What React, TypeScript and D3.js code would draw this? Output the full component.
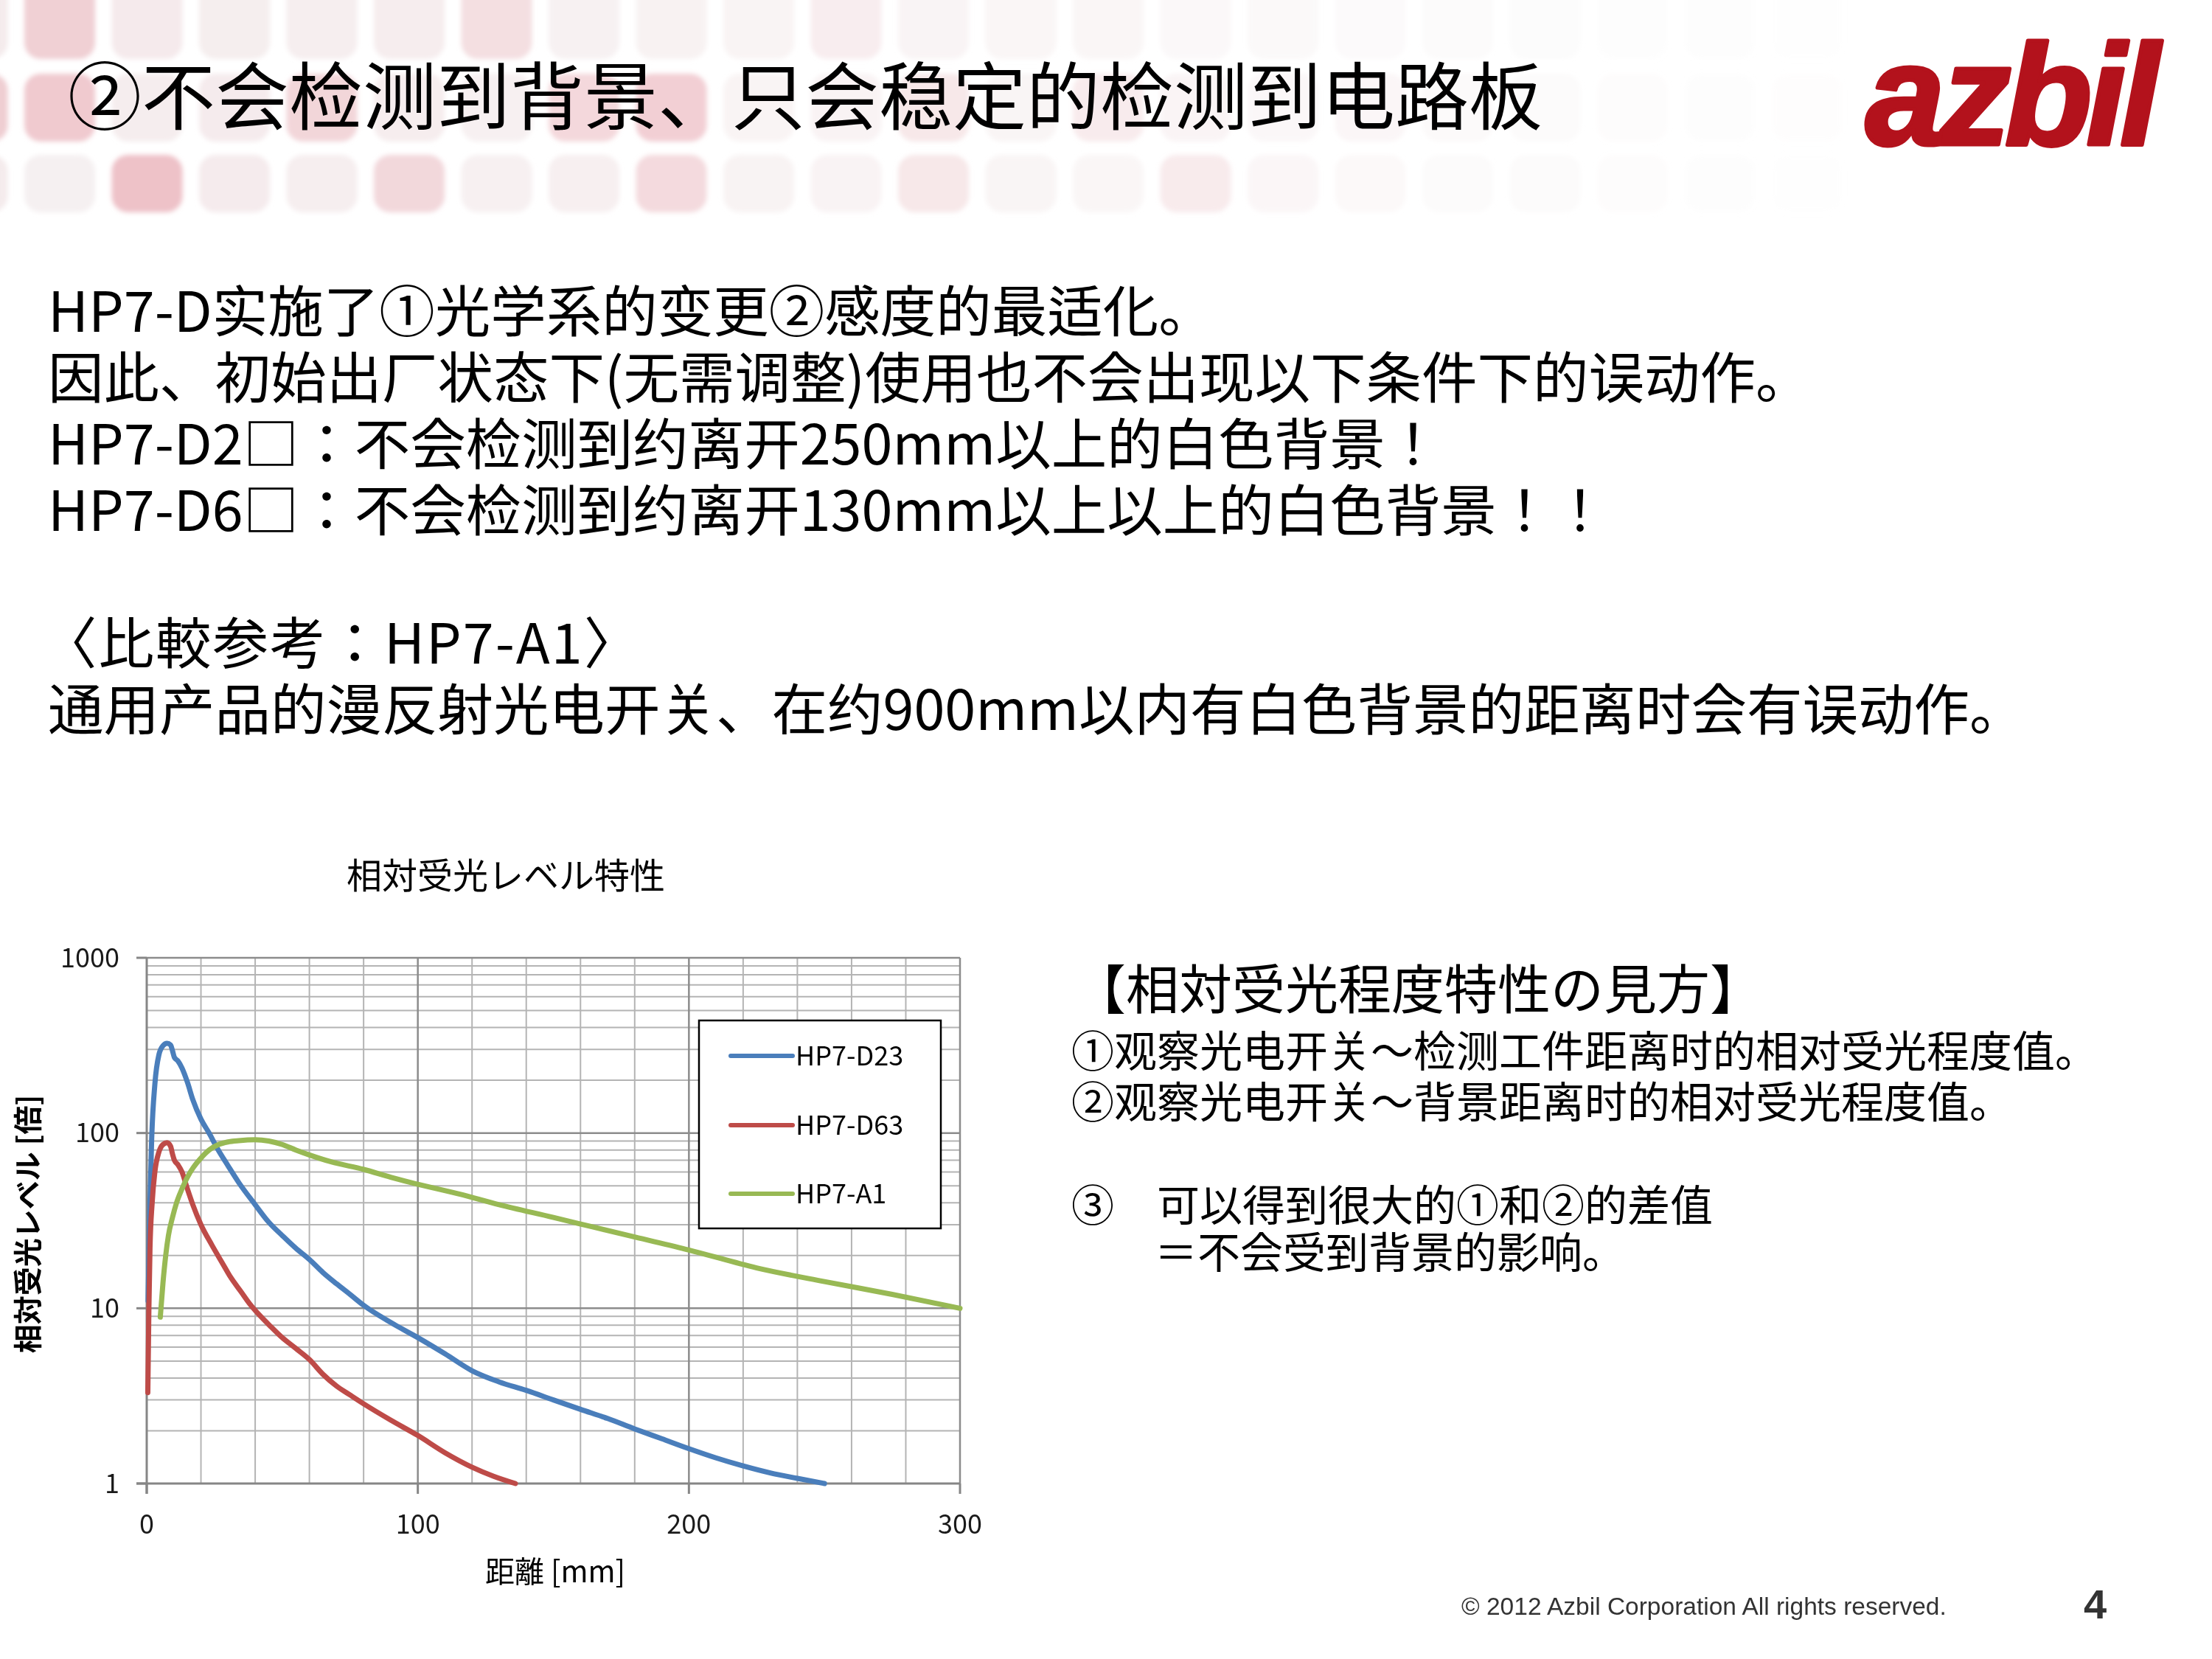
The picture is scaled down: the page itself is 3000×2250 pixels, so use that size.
import React from 'react';
import * as d3 from 'd3';

// ---------- data ----------
const seriesNames = ['HP7-D23', 'HP7-D63', 'HP7-A1'];
const seriesColors = ['#4a7ebb', '#be4b48', '#98b954'];

const distanceD23 = [0.5, 1.2, 1.8, 3, 4.5, 6, 7.5, 8.8, 9.5, 10.2, 11.5, 13, 15, 17, 20, 23, 26, 30, 34, 40, 45, 50, 55, 60, 65, 70, 75, 80, 90, 100, 110, 120, 130, 140, 150, 160, 170, 180, 190, 200, 210, 220, 230, 240, 250];
const levelD23 = [11, 40, 90, 190, 280, 315, 325, 318, 295, 270, 258, 235, 195, 155, 120, 100, 82, 65, 52, 39, 31, 26, 22, 19, 16, 13.8, 12, 10.4, 8.3, 6.8, 5.5, 4.4, 3.8, 3.4, 3.0, 2.65, 2.35, 2.05, 1.8, 1.58, 1.4, 1.26, 1.15, 1.07, 1.0];

const distanceD63 = [0.4, 0.8, 1.2, 2, 3, 4.5, 6, 7.5, 8.8, 9.5, 10.2, 11.5, 13, 15, 17, 20, 24, 28, 31, 35, 38, 42, 46, 50, 55, 60, 65, 70, 75, 80, 90, 100, 110, 120, 128, 136];
const levelD63 = [3.3, 10, 22, 40, 60, 78, 86, 88, 84, 76, 70, 66, 60, 48, 39, 30, 23, 18, 15, 12.3, 10.6, 9, 7.8, 6.8, 5.9, 5.1, 4.2, 3.6, 3.2, 2.85, 2.3, 1.88, 1.5, 1.24, 1.1, 1.0];

const distanceA1 = [5, 6, 7, 8, 9.5, 11, 13, 15, 17, 20, 23, 26.5, 30, 34, 40, 45, 50, 55, 60, 68, 80, 90, 100, 115, 130, 150, 165, 180, 200, 225, 250, 275, 300];
const levelA1 = [8.9, 14, 20, 26, 33, 40, 48, 56, 63, 72, 80, 86, 89, 90.5, 91.5, 90, 86, 80, 75, 68.5, 62, 56, 51, 45, 39, 33, 29, 25.5, 21.5, 17, 14.2, 12, 10];

const xTicks = [0, 100, 200, 300];
const yTicks = [1, 10, 100, 1000];

const chartTitle = '相対受光レベル特性';
const xAxisTitle = '距離 [mm]';
const yAxisTitle = '相対受光レベル [倍]';

const slideTitle = '②不会检测到背景、只会稳定的检测到电路板';
const bodyLines = [
  'HP7-D实施了①光学系的变更②感度的最适化。',
  '因此、初始出厂状态下(无需调整)使用也不会出现以下条件下的误动作。',
  'HP7-D2□：不会检测到约离开250mm以上的白色背景！',
  'HP7-D6□：不会检测到约离开130mm以上以上的白色背景！！',
];
const compareLines = [
  '〈比較参考：HP7-A1〉',
  '通用产品的漫反射光电开关、在约900mm以内有白色背景的距离时会有误动作。',
];
const noteHeading = '【相対受光程度特性の見方】';
const noteLines = [
  '①观察光电开关～检测工件距离时的相对受光程度值。',
  '②观察光电开关～背景距离时的相对受光程度值。',
];
const noteLine3 = '③　可以得到很大的①和②的差值';
const noteLine4 = '＝不会受到背景的影响。';
const footerText = '© 2012 Azbil Corporation All rights reserved.';
const pageNumber = '4';
const logoText = 'azbil';

// decorative header tiles (intensity per column)
const tileRow1 = [0.1, 0.35, 0.12, 0.1, 0.1, 0.12, 0.3, 0.1, 0.1, 0.08, 0.18, 0.1, 0.08, 0.1, 0.06, 0.06, 0.04, 0.04, 0.03, 0.02, 0.02, 0.01];
const tileRow2 = [0.35, 0.4, 0.1, 0.12, 0.35, 0.12, 0.1, 0.4, 0.55, 0.08, 0.1, 0.3, 0.1, 0.3, 0.15, 0.1, 0.15, 0.08, 0.06, 0.05, 0.04, 0.03];
const tileRow3 = [0.1, 0.06, 0.5, 0.12, 0.1, 0.35, 0.1, 0.12, 0.4, 0.1, 0.1, 0.3, 0.1, 0.1, 0.35, 0.12, 0.08, 0.05, 0.05, 0.04, 0.03, 0.02];

const seriesData = [
  { name: seriesNames[0], color: seriesColors[0], xs: distanceD23, ys: levelD23 },
  { name: seriesNames[1], color: seriesColors[1], xs: distanceD63, ys: levelD63 },
  { name: seriesNames[2], color: seriesColors[2], xs: distanceA1, ys: levelA1 },
];

const CJK_SC = '"Noto Sans CJK SC", "Noto Sans CJK JP", sans-serif';
const CJK_JP = '"Noto Sans CJK JP", "Noto Sans CJK SC", sans-serif';

export default function App() {
  const W = 3000, H = 2250;
  const left = 199, right = 1302, top = 1299, bottom = 2012;
  const x = d3.scaleLinear().domain([0, 300]).range([left, right]);
  const y = d3.scaleLog().domain([1, 1000]).range([bottom, top]);

  const minorX = d3.range(20, 300, 20).filter((v) => v % 100 !== 0);
  const minorY: number[] = [];
  [1, 10, 100].forEach((dec) => {
    for (let k = 2; k <= 9; k++) minorY.push(k * dec);
  });

  const line = d3
    .line<[number, number]>()
    .x((d) => x(d[0]))
    .y((d) => y(d[1]))
    .curve(d3.curveMonotoneX);

  const tileColor = d3.interpolateRgb('#f6f6f6', '#e58e99');
  const tileRows = [
    { vals: tileRow1, y0: -30, h: 110 },
    { vals: tileRow2, y0: 100, h: 92 },
    { vals: tileRow3, y0: 210, h: 78 },
  ];

  const legendX = 948, legendY = 1384, legendW = 328, legendH = 282;
  const legendRows = [1432, 1526, 1619];

  return (
    <svg width={W} height={H} viewBox={`0 0 ${W} ${H}`} style={{ position: 'absolute', left: 0, top: 0, background: '#fff' }}>
      <defs>
        <filter id="blur" x="-10%" y="-10%" width="120%" height="120%">
          <feGaussianBlur stdDeviation="3" />
        </filter>
      </defs>
      <rect x={0} y={0} width={W} height={H} fill="#ffffff" />

      {/* header tiles */}
      <g filter="url(#blur)">
        {tileRows.map((row, ri) =>
          row.vals.map((v, i) => (
            <rect
              key={`t${ri}-${i}`}
              x={33 + (i - 1) * 118.5}
              y={row.y0}
              width={96}
              height={row.h}
              rx={22}
              fill={tileColor(Math.min(1, v * 1.1))}
              opacity={Math.max(0, 1 - i / 24)}
            />
          ))
        )}
      </g>

      {/* slide title */}
      <text x={92} y={168} fontFamily={CJK_SC} fontSize={100} fill="#000">{slideTitle}</text>

      {/* logo */}
      <text x={2530} y={196} fontFamily='"Liberation Sans", Arial, sans-serif' fontWeight={700} fontStyle="italic" fontSize={194} letterSpacing={-8} fill="#b3121c" stroke="#b3121c" strokeWidth={5} strokeLinejoin="round">{logoText}</text>

      {/* body text */}
      {bodyLines.map((t, i) => (
        <text key={`b${i}`} x={65} y={450 + i * 90} fontFamily={CJK_JP} fontSize={75.5} fill="#000">{t}</text>
      ))}
      <text x={56} y={900} fontFamily={CJK_JP} fontSize={75.5} letterSpacing={2} fill="#000">{compareLines[0]}</text>
      <text x={65} y={990} fontFamily={CJK_JP} fontSize={75.5} fill="#000">{compareLines[1]}</text>

      {/* chart title */}
      <text x={686} y={1205} textAnchor="middle" fontFamily={CJK_JP} fontSize={48} fill="#000">{chartTitle}</text>

      {/* grid minor */}
      <g stroke="#b4b4b4" strokeWidth={2}>
        {minorX.map((v) => (
          <line key={`mx${v}`} x1={x(v)} x2={x(v)} y1={top} y2={bottom} />
        ))}
        {minorY.map((v) => (
          <line key={`my${v}`} x1={left} x2={right} y1={y(v)} y2={y(v)} />
        ))}
      </g>
      {/* grid major */}
      <g stroke="#8c8c8c" strokeWidth={2.5}>
        {xTicks.slice(1).map((v) => (
          <line key={`Mx${v}`} x1={x(v)} x2={x(v)} y1={top} y2={bottom} />
        ))}
        {yTicks.slice(1).map((v) => (
          <line key={`My${v}`} x1={left} x2={right} y1={y(v)} y2={y(v)} />
        ))}
      </g>
      {/* axes */}
      <g stroke="#868686" strokeWidth={3}>
        <line x1={left} x2={left} y1={top} y2={bottom + 14} />
        <line x1={left - 14} x2={right} y1={bottom} y2={bottom} />
        {yTicks.map((v) => (
          <line key={`yt${v}`} x1={left - 14} x2={left} y1={y(v)} y2={y(v)} />
        ))}
        {xTicks.map((v) => (
          <line key={`xt${v}`} x1={x(v)} x2={x(v)} y1={bottom} y2={bottom + 14} />
        ))}
      </g>

      {/* tick labels */}
      {yTicks.map((v) => (
        <text key={`yl${v}`} x={162} y={y(v)} dy="0.35em" textAnchor="end" fontFamily={CJK_JP} fontSize={36} fill="#1a1a1a">{v}</text>
      ))}
      {xTicks.map((v) => (
        <text key={`xl${v}`} x={x(v)} y={2080} textAnchor="middle" fontFamily={CJK_JP} fontSize={36} fill="#1a1a1a">{v}</text>
      ))}

      {/* axis titles */}
      <text x={753} y={2146} textAnchor="middle" fontFamily={CJK_JP} fontSize={40} fill="#000">{xAxisTitle}</text>
      <text transform={`translate(52,1660) rotate(-90)`} textAnchor="middle" fontFamily={CJK_JP} fontWeight={700} fontSize={39} fill="#000">{yAxisTitle}</text>

      {/* series */}
      {seriesData.map((s) => (
        <path
          key={s.name}
          d={line(s.xs.map((v, i) => [v, s.ys[i]] as [number, number])) || ''}
          fill="none"
          stroke={s.color}
          strokeWidth={7}
          strokeLinejoin="round"
          strokeLinecap="round"
        />
      ))}

      {/* legend */}
      <rect x={legendX} y={legendY} width={legendW} height={legendH} fill="#fff" stroke="#000" strokeWidth={2.5} />
      {seriesData.map((s, i) => (
        <g key={`lg${i}`}>
          <line x1={991} x2={1075} y1={legendRows[i]} y2={legendRows[i]} stroke={s.color} strokeWidth={6} strokeLinecap="round" />
          <text x={1079} y={legendRows[i]} dy="0.36em" fontFamily={CJK_JP} fontSize={36} fill="#000">{s.name}</text>
        </g>
      ))}

      {/* right notes */}
      <text x={1455} y={1368} fontFamily={CJK_JP} fontSize={72} fill="#000">{noteHeading}</text>
      <text x={1453} y={1447} fontFamily={CJK_JP} fontSize={58} fill="#000">{noteLines[0]}</text>
      <text x={1453} y={1516} fontFamily={CJK_JP} fontSize={58} fill="#000">{noteLines[1]}</text>
      <text x={1453} y={1656} fontFamily={CJK_JP} fontSize={58} fill="#000">{noteLine3}</text>
      <text x={1566} y={1720} fontFamily={CJK_JP} fontSize={58} fill="#000">{noteLine4}</text>

      {/* footer */}
      <text x={1982} y={2190} fontFamily='"Liberation Sans", Arial, sans-serif' fontSize={33.5} fill="#333">{footerText}</text>
      <text x={2826} y={2195} fontFamily='"Liberation Sans", Arial, sans-serif' fontWeight={700} fontSize={56} fill="#333">{pageNumber}</text>
    </svg>
  );
}
